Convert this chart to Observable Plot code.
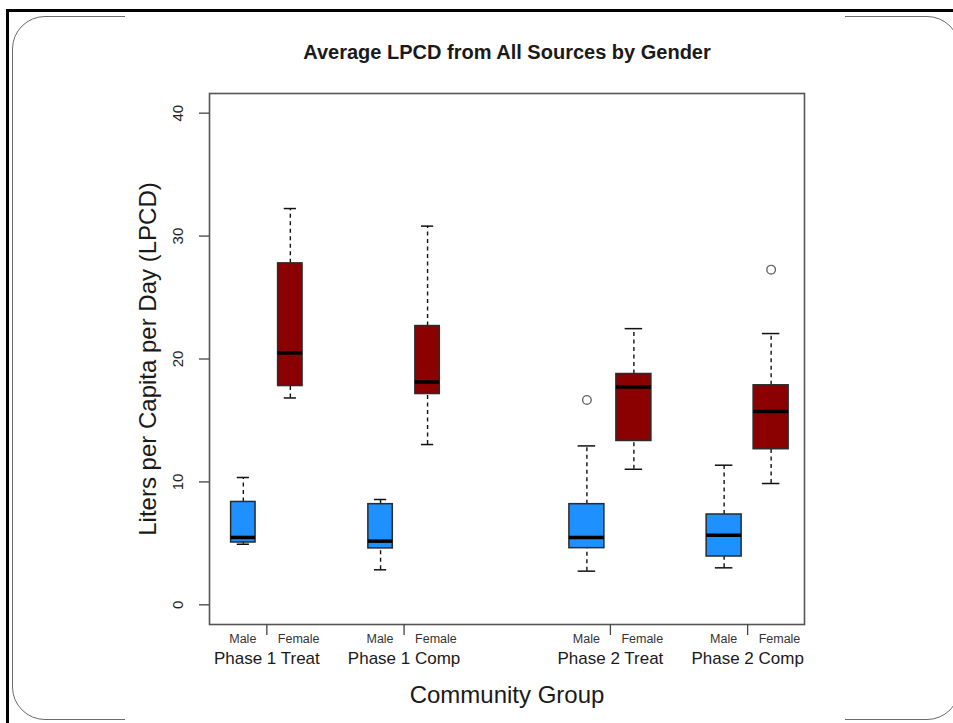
<!DOCTYPE html>
<html>
<head>
<meta charset="utf-8">
<script src="https://cdn.jsdelivr.net/npm/d3@7"></script>
<script src="https://cdn.jsdelivr.net/npm/@observablehq/plot@0.6"></script>
<style>
  body { margin: 0; background: #fff; }
  #wrap { position: relative; width: 953px; height: 723px; overflow: hidden; background: #fff;
          font-family: "Liberation Sans", Arial, Helvetica, sans-serif; }
  .deco { position: absolute; box-sizing: border-box; }
  #chart { position: absolute; left: 0; top: 0; }
</style>
</head>
<body>
<div id="wrap">
  <div class="deco" style="left:12px;top:16px;width:948px;height:704px;border:1px solid #6a6a6a;border-radius:33px;"></div>
  <div class="deco" style="left:125px;top:13px;width:720px;height:7px;background:#fff;"></div>
  <div class="deco" style="left:125px;top:715px;width:720px;height:8px;background:#fff;"></div>
  <div class="deco" style="left:6px;top:9px;width:947px;height:3px;background:#000;"></div>
  <div class="deco" style="left:6px;top:9px;width:3px;height:714px;background:#000;"></div>
  <div id="chart"></div>
</div>
<script>
// ---- data ----
const groups = ["Phase 1 Treat", "Phase 1 Comp", "Phase 2 Treat", "Phase 2 Comp"];
const genders = ["Male", "Female"];
// box order: P1T-M, P1T-F, P1C-M, P1C-F, P2T-M, P2T-F, P2C-M, P2C-F
const whiskerLow  = [4.93, 16.83, 2.85, 13.04, 2.74, 11.03, 3.01,  9.87];
const q1          = [5.07, 17.80, 4.59, 17.15, 4.61, 13.33, 3.93, 12.66];
const median      = [5.48, 20.49, 5.18, 18.13, 5.48, 17.72, 5.67, 15.72];
const q3          = [8.37, 27.78, 8.19, 22.68, 8.19, 18.78, 7.35, 17.86];
const whiskerHigh = [10.36, 32.24, 8.57, 30.81, 12.93, 22.47, 11.36, 22.07];
const outlierBox   = [4, 7];
const outlierValue = [16.67, 27.27];
const yTicks = [0, 10, 20, 30, 40];
const titleText = "Average LPCD from All Sources by Gender";
const xTitle = "Community Group";
const yTitle = "Liters per Capita per Day (LPCD)";

// ---- layout (x units) ----
const groupCenter = [1.5, 4.42, 8.81, 11.73];
const boxWidth = [0.52, 0.52, 0.745, 0.745];
const pairOffset = 0.5;

const boxes = [];
groups.forEach((g, gi) => genders.forEach((s, si) => {
  const i = gi * 2 + si;
  const cx = groupCenter[gi] + (si === 0 ? -pairOffset : pairOffset);
  const hw = boxWidth[gi] / 2;
  boxes.push({group: g, gender: s, cx, x1: cx - hw, x2: cx + hw, c1: cx - hw / 2, c2: cx + hw / 2,
    lo: whiskerLow[i], q1: q1[i], med: median[i], q3: q3[i], hi: whiskerHigh[i]});
}));
const outliers = outlierBox.map((b, k) => ({cx: boxes[b].cx, value: outlierValue[k]}));
const sexLabels = [];
groups.forEach((g, gi) => genders.forEach((s) => sexLabels.push({x: groupCenter[gi], text: s})));
const groupLabels = groups.map((g, gi) => ({x: groupCenter[gi], text: g}));

const font = "Liberation Sans, Arial, Helvetica, sans-serif";

const chart = Plot.plot({
  width: 953,
  height: 723,
  marginLeft: 209,
  marginRight: 149,
  marginTop: 93,
  marginBottom: 99,
  style: {background: "transparent", fontFamily: font, overflow: "visible"},
  x: {domain: [0.28, 12.94], axis: null},
  y: {domain: [-1.6, 41.6], axis: null},
  color: {domain: genders, range: ["#1E90FF", "#8B0000"]},
  marks: [
    // whiskers
    Plot.ruleX(boxes, {x: "cx", y1: "q3", y2: "hi", stroke: "#111", strokeWidth: 1.4, strokeDasharray: "4,3.5"}),
    Plot.ruleX(boxes, {x: "cx", y1: "lo", y2: "q1", stroke: "#111", strokeWidth: 1.4, strokeDasharray: "4,3.5"}),
    Plot.ruleY(boxes, {y: "hi", x1: "c1", x2: "c2", stroke: "#111", strokeWidth: 1.5}),
    Plot.ruleY(boxes, {y: "lo", x1: "c1", x2: "c2", stroke: "#111", strokeWidth: 1.5}),
    // boxes
    Plot.rect(boxes, {x1: "x1", x2: "x2", y1: "q1", y2: "q3", fill: "gender", stroke: "#2b2b2b", strokeWidth: 1.5}),
    Plot.ruleY(boxes, {y: "med", x1: "x1", x2: "x2", stroke: "#000", strokeWidth: 3.5}),
    // outliers
    Plot.dot(outliers, {x: "cx", y: "value", r: 4.3, stroke: "#666", strokeWidth: 1.4, fill: "white"}),
    Plot.frame({stroke: "#555", strokeWidth: 1.6}),
    // y axis ticks and labels
    Plot.axisY(yTicks, {anchor: "left", tickSize: 10, tickFormat: () => "", label: null, stroke: "#444", strokeWidth: 1.3}),
    Plot.text(yTicks, {y: d => d, text: d => String(d), frameAnchor: "left", dx: -31, rotate: -90,
      fontSize: 15, fill: "#222", textAnchor: "middle", lineAnchor: "middle"}),
    // x axis ticks and labels
    Plot.axisX(groupCenter, {anchor: "bottom", tickSize: 11, tickFormat: () => "", label: null, stroke: "#444", strokeWidth: 1.3}),
    Plot.text(sexLabels.filter(d => d.text === "Male"), {x: "x", text: "text", frameAnchor: "bottom", dy: 14, dx: -10.5,
      fontSize: 12.5, fill: "#333", textAnchor: "end", lineAnchor: "middle"}),
    Plot.text(sexLabels.filter(d => d.text === "Female"), {x: "x", text: "text", frameAnchor: "bottom", dy: 14, dx: 11,
      fontSize: 12.5, fill: "#333", textAnchor: "start", lineAnchor: "middle"}),
    Plot.text(groupLabels, {x: "x", text: "text", frameAnchor: "bottom", dy: 34,
      fontSize: 17, fill: "#1a1a1a", textAnchor: "middle", lineAnchor: "middle"}),
    // titles
    Plot.text([titleText], {text: d => d, frameAnchor: "top", dy: -41, fontSize: 20, fontWeight: "bold",
      fill: "#1a1a1a", lineAnchor: "middle"}),
    Plot.text([xTitle], {text: d => d, frameAnchor: "bottom", dy: 71, fontSize: 24, fill: "#1a1a1a", lineAnchor: "middle"}),
    Plot.text([yTitle], {text: d => d, frameAnchor: "left", dx: -61, rotate: -90, fontSize: 24, fill: "#1a1a1a",
      textAnchor: "middle", lineAnchor: "middle"})
  ]
});
document.getElementById("chart").appendChild(chart);
</script>
</body>
</html>
